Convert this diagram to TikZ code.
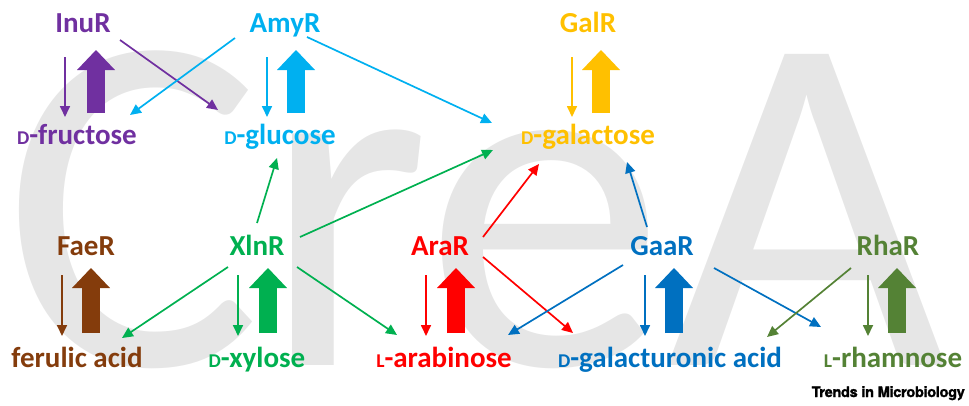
\documentclass[tikz,border=0pt]{standalone}
\usepackage{fontspec}
\setmainfont{Carlito}
\newfontfamily\herosfont[BoldFeatures={FakeBold=1.5}, LetterSpace=-2]{TeX Gyre Heros}
\usetikzlibrary{arrows.meta}

\definecolor{inucol}{HTML}{7030A0}
\definecolor{amycol}{HTML}{00B0F0}
\definecolor{galcol}{HTML}{FFC000}
\definecolor{faecol}{HTML}{843C0C}
\definecolor{xlncol}{HTML}{00B050}
\definecolor{aracol}{HTML}{FF0000}
\definecolor{gaacol}{HTML}{0070C0}
\definecolor{rhacol}{HTML}{548235}
\definecolor{bggray}{HTML}{E6E6E6}

% small capital prefix (D-, L-)
\newcommand{\pre}[1]{{\fontsize{19.5}{19.5}\selectfont #1}}

\begin{document}
\begin{tikzpicture}[
        x=1pt, y=1pt,
        lbl/.style={font=\bfseries\fontsize{29}{29}\selectfont, inner sep=0pt, anchor=base},
        link/.style={line width=1.7pt, -{Triangle[width=10pt,length=11pt]}},
        fatarr/.style={line width=18pt, -{Triangle[width=38pt,length=20pt,line width=0pt]}}
    ]
        \useasboundingbox (0,0) rectangle (969,-405);

        % Background
        \node[anchor=base west, inner sep=0pt, text=bggray, font=\fontsize{485}{485}\selectfont] (crea) at (3,-365) {CreA};

        % Regulators, top row
        \node[lbl, inucol] (InuR) at (83,-32) {InuR};
        \node[lbl, amycol] (AmyR) at (285,-32) {AmyR};
        \node[lbl, galcol] (GalR) at (588,-32) {GalR};

        % Sugars, top row
        \node[lbl, inucol] (fru) at (77,-144) {\pre{D}-fructose};
        \node[lbl, amycol] (glc) at (280,-144) {\pre{D}-glucose};
        \node[lbl, galcol] (gal) at (588,-144) {\pre{D}-galactose};

        % Regulators, bottom row
        \node[lbl, faecol] (FaeR) at (86,-255) {FaeR};
        \node[lbl, xlncol] (XlnR) at (257,-255) {XlnR};
        \node[lbl, aracol] (AraR) at (440,-255) {AraR};
        \node[lbl, gaacol] (GaaR) at (662,-255) {GaaR};
        \node[lbl, rhacol] (RhaR) at (888,-255) {RhaR};

        % Inducers, bottom row
        \node[lbl, faecol] (fer) at (77,-367) {ferulic acid};
        \node[lbl, xlncol] (xyl) at (257,-367) {\pre{D}-xylose};
        \node[lbl, aracol] (ara) at (444,-367) {\pre{L}-arabinose};
        \node[lbl, gaacol] (galA) at (670,-367) {\pre{D}-galacturonic acid};
        \node[lbl, rhacol] (rha) at (893,-367) {\pre{L}-rhamnose};

        % Regulation and induction pairs
        \foreach \r/\s/\c/\ar/\as/\br/\bs in {InuR/fru/inucol/-18/-12/13/19, AmyR/glc/amycol/-18/-13/11/16, GalR/gal/galcol/-16/-16/13/13}{
            \draw[link, \c] ([shift={(\ar,-25)}]\r.base) -- ([shift={(\as,27)}]\s.base);
            \draw[fatarr, \c] ([shift={(\bs,31)}]\s.base) -- ([shift={(\br,-18)}]\r.base);
        }
        \foreach \r/\s/\c/\ar/\as/\br/\bs in {FaeR/fer/faecol/-24/-15/5/14, XlnR/xyl/xlncol/-19/-19/11/11, AraR/ara/aracol/-14/-18/16/12, GaaR/galA/gaacol/-17/-25/12/4, RhaR/rha/rhacol/-20/-25/9/4}{
            \draw[link, \c] ([shift={(\ar,-20)}]\r.base) -- ([shift={(\as,31)}]\s.base);
            \draw[fatarr, \c] ([shift={(\bs,34)}]\s.base) -- ([shift={(\br,-13)}]\r.base);
        }

        % Cross regulation
        \draw[link, inucol] ([shift={(37,-8)}]InuR.base) -- ([shift={(-62,34)}]glc.base);
        \draw[link, amycol] ([shift={(-50,-6)}]AmyR.base) -- ([shift={(53,29)}]fru.base);
        \draw[link, amycol] ([shift={(22,-5)}]AmyR.base) -- ([shift={(-96,21)}]gal.base);
        \draw[link, xlncol] ([shift={(0,32)}]XlnR.base) -- ([shift={(-3,-14)}]glc.base);
        \draw[link, xlncol] ([shift={(43,18)}]XlnR.base) -- ([shift={(-95,-6)}]gal.base);
        \draw[link, xlncol] ([shift={(-29,-12)}]XlnR.base) -- ([shift={(45,29)}]fer.base);
        \draw[link, xlncol] ([shift={(40,-12)}]XlnR.base) -- ([shift={(-47,32)}]ara.base);
        \draw[link, aracol] ([shift={(43,18)}]AraR.base) -- ([shift={(-49,-20)}]gal.base);
        \draw[link, aracol] ([shift={(43,-2)}]AraR.base) -- ([shift={(-97,34)}]galA.base);
        \draw[link, gaacol] ([shift={(-15,28)}]GaaR.base) -- ([shift={(39,-18)}]gal.base);
        \draw[link, gaacol] ([shift={(-39,-10)}]GaaR.base) -- ([shift={(64,32)}]ara.base);
        \draw[link, gaacol] ([shift={(52,-13)}]GaaR.base) -- ([shift={(-72,40)}]rha.base);
        \draw[link, rhacol] ([shift={(-37,-13)}]RhaR.base) -- ([shift={(97,30)}]galA.base);

        % Journal mark
        \node[anchor=base east, inner sep=0pt, font=\herosfont\bfseries\fontsize{14.5}{14.5}\selectfont] (journal) at (965,-397) {Trends in Microbiology};
\end{tikzpicture}
\end{document}
